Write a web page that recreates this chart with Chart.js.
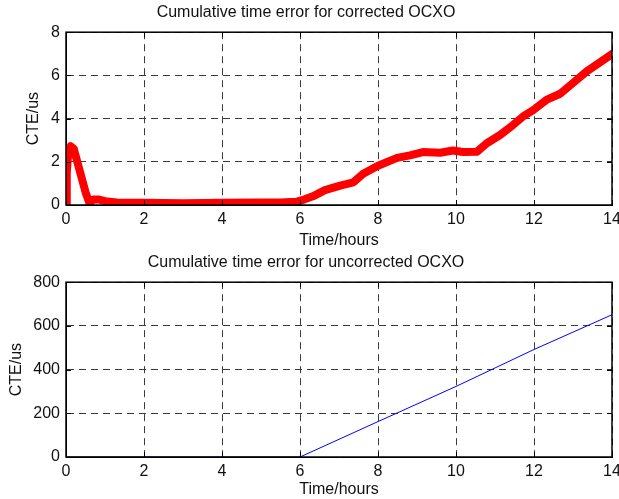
<!DOCTYPE html>
<html>
<head>
<meta charset="utf-8">
<script src="https://cdn.jsdelivr.net/npm/chart.js@4"></script>
<style>
  html, body { margin: 0; padding: 0; background: #fff; }
  .panel { position: absolute; left: 0; width: 619px; }
  #top { top: 0; height: 250px; }
  #bottom { top: 250px; height: 249px; }
</style>
</head>
<body>
<div class="panel" id="top"><canvas id="chartTop"></canvas></div>
<div class="panel" id="bottom"><canvas id="chartBottom"></canvas></div>
<script>
// corrected OCXO (hours, microseconds)
const corrHours = [0, 0.02, 0.06, 0.12, 0.2, 0.35, 0.5, 0.6, 0.7, 0.85, 1.0, 1.3, 2, 3, 4, 5, 5.5, 5.9,
  6.1, 6.33, 6.64, 7.03, 7.37, 7.62, 8.0, 8.49, 8.82, 9.15, 9.59, 9.92, 10.18, 10.54, 10.79,
  11.13, 11.46, 11.72, 11.97, 12.33, 12.67, 13.0, 13.36, 13.69, 14];
const corrCte = [0, 1.5, 2.5, 2.72, 2.6, 1.6, 0.6, 0.1, 0.25, 0.25, 0.18, 0.12, 0.1, 0.08, 0.1, 0.12, 0.12, 0.15,
  0.25, 0.4, 0.69, 0.9, 1.05, 1.45, 1.82, 2.18, 2.3, 2.45, 2.42, 2.52, 2.45, 2.47, 2.86,
  3.24, 3.7, 4.1, 4.38, 4.88, 5.15, 5.65, 6.2, 6.6, 6.99];

// uncorrected OCXO
const uncorrHours = [0, 6, 8, 10, 12, 14];
const uncorrCte = [0, 0, 162, 323, 492, 651];

const xTicks = [0, 2, 4, 6, 8, 10, 12, 14];
const yTicksTop = [0, 2, 4, 6, 8];
const yTicksBottom = [0, 200, 400, 600, 800];

const FONT = 'Liberation Sans, Arial, Helvetica, sans-serif';
const TXT = '#111';

// MATLAB style box with inward tick marks
const boxPlugin = {
  id: 'box',
  afterDraw(chart) {
    const { ctx, chartArea: a, scales } = chart;
    ctx.save();
    ctx.strokeStyle = '#000';
    ctx.lineWidth = 1;
    ctx.beginPath();
    scales.x.ticks.forEach(t => {
      const px = Math.round(scales.x.getPixelForValue(t.value)) + 0.5;
      ctx.moveTo(px, a.bottom); ctx.lineTo(px, a.bottom - 5);
      ctx.moveTo(px, a.top); ctx.lineTo(px, a.top + 5);
    });
    scales.y.ticks.forEach(t => {
      const py = Math.round(scales.y.getPixelForValue(t.value)) + 0.5;
      ctx.moveTo(a.left, py); ctx.lineTo(a.left + 5, py);
      ctx.moveTo(a.right, py); ctx.lineTo(a.right - 5, py);
    });
    ctx.stroke();
    ctx.lineWidth = 1.5;
    ctx.strokeRect(a.left, a.top, a.right - a.left, a.bottom - a.top);
    ctx.restore();
  }
};

function makeChart(id, title, xs, ys, yTicks, yMax, color, width, yTitlePad, axisH) {
  return new Chart(document.getElementById(id), {
    type: 'line',
    data: {
      datasets: [{
        data: xs.map((x, i) => ({ x: x, y: ys[i] })),
        borderColor: color,
        borderWidth: width,
        borderCapStyle: 'round',
        borderJoinStyle: 'round',
        pointRadius: 0,
        tension: 0,
        fill: false
      }]
    },
    options: {
      responsive: true,
      maintainAspectRatio: false,
      animation: false,
      layout: { padding: { left: 0, right: 7, top: 0, bottom: 0 } },
      plugins: {
        legend: { display: false },
        tooltip: { enabled: false },
        title: {
          display: true,
          text: title,
          color: TXT,
          font: { family: FONT, size: 16, weight: 'normal' },
          padding: { top: 3, bottom: 10 }
        }
      },
      scales: {
        x: {
          type: 'linear',
          min: 0, max: 14,
          afterBuildTicks: s => { s.ticks = xTicks.map(v => ({ value: v })); },
          afterFit: s => { s.height = axisH; s.paddingLeft = 0; s.paddingRight = 0; },
          ticks: { color: TXT, padding: 5, font: { family: FONT, size: 16 } },
          grid: { color: '#3a3a3a', lineWidth: 1, drawTicks: false },
          border: { color: '#000', width: 1, dash: [7, 5] },
          title: {
            display: true, text: 'Time/hours', color: TXT,
            font: { family: FONT, size: 16 }, padding: { top: 0, bottom: 0 }
          }
        },
        y: {
          min: 0, max: yMax,
          afterBuildTicks: s => { s.ticks = yTicks.map(v => ({ value: v })); },
          afterFit: s => { s.width = 66; s.paddingTop = 0; s.paddingBottom = 0; },
          ticks: { color: TXT, padding: 6, font: { family: FONT, size: 16 } },
          grid: { color: '#3a3a3a', lineWidth: 1, drawTicks: false },
          border: { color: '#000', width: 1, dash: [7, 5] },
          title: {
            display: true, text: 'CTE/us', color: TXT,
            font: { family: FONT, size: 16 }, padding: { top: yTitlePad, bottom: 0 }
          }
        }
      }
    },
    plugins: [boxPlugin]
  });
}

makeChart('chartTop', 'Cumulative time error for corrected OCXO',
  corrHours, corrCte, yTicksTop, 8, '#ff0000', 8, 24, 45);
makeChart('chartBottom', 'Cumulative time error for uncorrected OCXO',
  uncorrHours, uncorrCte, yTicksBottom, 800, '#0000ff', 1, 7, 42);
</script>
</body>
</html>
